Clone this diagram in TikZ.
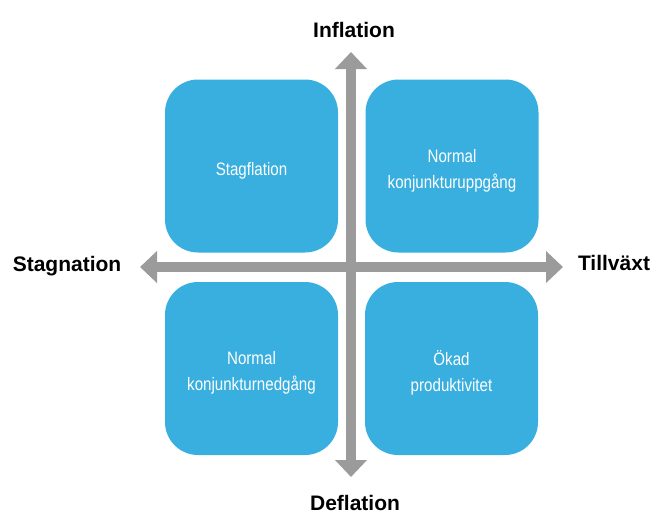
\documentclass[tikz,border=0pt]{standalone}
\usepackage{fontspec}
\setmainfont{Liberation Sans}
\newfontfamily\boxfont[FakeStretch=0.84]{Liberation Sans}
\usetikzlibrary{arrows.meta}
\definecolor{boxblue}{RGB}{56,175,223}
\definecolor{axisgray}{RGB}{155,155,155}
\tikzset{
  quad/.style={fill=boxblue, draw=none, rounded corners=33pt, minimum width=173pt, minimum height=173pt, inner sep=0pt},
  quadtext/.style={inner sep=0pt, text=white, align=center, font=\boxfont\fontsize{18}{26}\selectfont},
  axis/.style={draw=axisgray, line width=10pt, {Triangle[width=31pt,length=17pt]}-{Triangle[width=31pt,length=17pt]}},
  axlabel/.style={anchor=base, inner sep=0pt, font=\bfseries\fontsize{21}{25}\selectfont, text=black}
}
\begin{document}
\begin{tikzpicture}[x=1pt,y=1pt]
\useasboundingbox (0,0) rectangle (652,-514);
\coordinate (top) at (351,-52);
\coordinate (bot) at (351,-477);
\coordinate (lft) at (140,-267);
\coordinate (rgt) at (563,-267);
\draw[axis] (bot) -- (top);
\draw[axis] (lft) -- (rgt);
\node[quad] (tl) at (251.5,-166) {};
\node[quad] (tr) at (452,-166) {};
\node[quad] (bl) at (251.5,-368.5) {};
\node[quad] (br) at (451.5,-368.5) {};
\node[quadtext] (tlt) at ([yshift=-5pt]tl.center) {Stagflation};
\node[quadtext] (trt) at ([yshift=-5pt]tr.center) {Normal\\konjunkturuppgång};
\node[quadtext] (blt) at ([yshift=-4pt]bl.center) {Normal\\konjunkturnedgång};
\node[quadtext] (brt) at ([yshift=-4pt]br.center) {Ökad\\produktivitet};
\node[axlabel] (infl) at (354,-37) {Inflation};
\node[axlabel] (defl) at (355,-510) {Deflation};
\node[axlabel] (stag) at (67,-271) {Stagnation};
\node[axlabel] (till) at (614,-270) {Tillväxt};
\end{tikzpicture}
\end{document}
